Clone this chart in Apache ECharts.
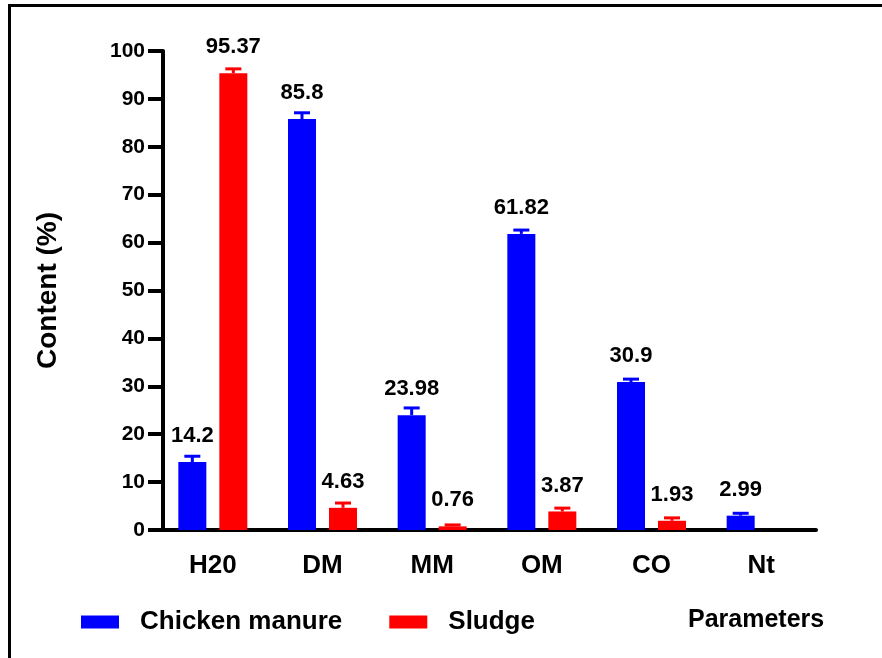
<!DOCTYPE html>
<html>
<head>
<meta charset="utf-8">
<script src="https://cdn.jsdelivr.net/npm/echarts@6/dist/echarts.min.js"></script>
<style>
  html, body { margin: 0; padding: 0; background: #fff; }
  #chart { width: 882px; height: 658px; }
</style>
</head>
<body>
<div id="chart"></div>
<script>
// Composition of the substrates (% content)
const categories = ['H20', 'DM', 'MM', 'OM', 'CO', 'Nt'];
const chickenManure = [14.2, 85.8, 23.98, 61.82, 30.9, 2.99];
const sludge = [95.37, 4.63, 0.76, 3.87, 1.93, null];
// standard deviations (upper whiskers)
const chickenManureErr = [1.2, 1.3, 1.5, 0.8, 0.6, 0.5];
const sludgeErr = [0.9, 1.0, 0.3, 0.7, 0.6, null];

const seriesNames = ['Chicken manure', 'Sludge'];
const yTitle = 'Content (%)';
const xTitle = 'Parameters';

const FONT = '"Liberation Sans", Arial, Helvetica, sans-serif';
const BLUE = '#0000ff';
const RED = '#ff0000';
const BAR_W = 28;
const BAR_GAP_PX = 13;
const HALF_SHIFT = (BAR_W + BAR_GAP_PX) / 2;

function errData(vals, errs) {
  return vals.map((v, i) => (v == null || errs[i] == null) ? null : [i, v, errs[i]]);
}

function errRenderer(shift, color) {
  return function (params, api) {
    const idx = api.value(0);
    const v = api.value(1);
    const e = api.value(2);
    const base = api.coord([idx, v]);
    const top = api.coord([idx, v + e]);
    const x = base[0] + shift;
    const style = { stroke: color, lineWidth: 3 };
    return {
      type: 'group',
      children: [
        { type: 'line', shape: { x1: x, y1: base[1], x2: x, y2: top[1] }, style },
        { type: 'line', shape: { x1: x - 8, y1: top[1], x2: x + 8, y2: top[1] }, style }
      ]
    };
  };
}

const valueLabel = {
  show: true,
  position: 'top',
  distance: 15,
  color: '#000',
  fontFamily: FONT,
  fontWeight: 'bold',
  fontSize: 22,
  formatter: p => String(p.value)
};

const chart = echarts.init(document.getElementById('chart'), null, { renderer: 'canvas' });
chart.setOption({
  backgroundColor: '#fff',
  animation: false,
  textStyle: { fontFamily: FONT },
  graphic: [{
    type: 'polyline',
    shape: { points: [[9.5, 658], [9.5, 5.5], [882, 5.5]] },
    style: { stroke: '#000', lineWidth: 3, fill: null },
    silent: true
  }],
  title: {
    text: xTitle,
    left: 683,
    top: 603,
    textStyle: { fontFamily: FONT, fontWeight: 'bold', fontSize: 25, color: '#000' }
  },
  legend: {
    left: 76,
    top: 604,
    itemWidth: 38,
    itemHeight: 13,
    itemGap: 47,
    icon: 'rect',
    data: seriesNames,
    textStyle: {
      fontFamily: FONT, fontWeight: 'bold', fontSize: 26, color: '#000',
      padding: [0, 0, 0, 16]
    }
  },
  grid: { left: 158, right: 66, top: 51, bottom: 128, containLabel: false },
  xAxis: {
    type: 'category',
    data: categories,
    axisLine: { lineStyle: { color: '#000', width: 4 } },
    axisTick: { alignWithLabel: true, length: 13, lineStyle: { color: '#000', width: 4 } },
    axisLabel: { color: '#000', fontFamily: FONT, fontWeight: 'bold', fontSize: 26, margin: 23 },
    splitLine: { show: false }
  },
  yAxis: {
    type: 'value',
    min: 0,
    max: 100,
    interval: 10,
    offset: -5,
    name: yTitle,
    nameLocation: 'middle',
    nameGap: 101,
    nameTextStyle: { color: '#000', fontFamily: FONT, fontWeight: 'bold', fontSize: 28 },
    axisLine: { show: true, lineStyle: { color: '#000', width: 4 } },
    axisTick: { show: true, length: 15, lineStyle: { color: '#000', width: 4 } },
    axisLabel: { color: '#000', fontFamily: FONT, fontWeight: 'bold', fontSize: 21, margin: 18 },
    splitLine: { show: false }
  },
  series: [
    {
      name: seriesNames[0],
      type: 'bar',
      data: chickenManure,
      barWidth: BAR_W,
      barGap: (BAR_GAP_PX / BAR_W * 100).toFixed(1) + '%',
      itemStyle: { color: BLUE },
      label: valueLabel,
      z: 2
    },
    {
      name: seriesNames[1],
      type: 'bar',
      data: sludge.map(v => v == null ? '-' : v),
      barWidth: BAR_W,
      itemStyle: { color: RED },
      label: valueLabel,
      z: 2
    },
    {
      type: 'custom',
      name: seriesNames[0] + ' SD',
      renderItem: errRenderer(-HALF_SHIFT, BLUE),
      data: errData(chickenManure, chickenManureErr),
      encode: { x: 0, y: 1 },
      z: 3,
      silent: true
    },
    {
      type: 'custom',
      name: seriesNames[1] + ' SD',
      renderItem: errRenderer(HALF_SHIFT, RED),
      data: errData(sludge, sludgeErr),
      encode: { x: 0, y: 1 },
      z: 3,
      silent: true
    }
  ]
});
</script>
</body>
</html>
